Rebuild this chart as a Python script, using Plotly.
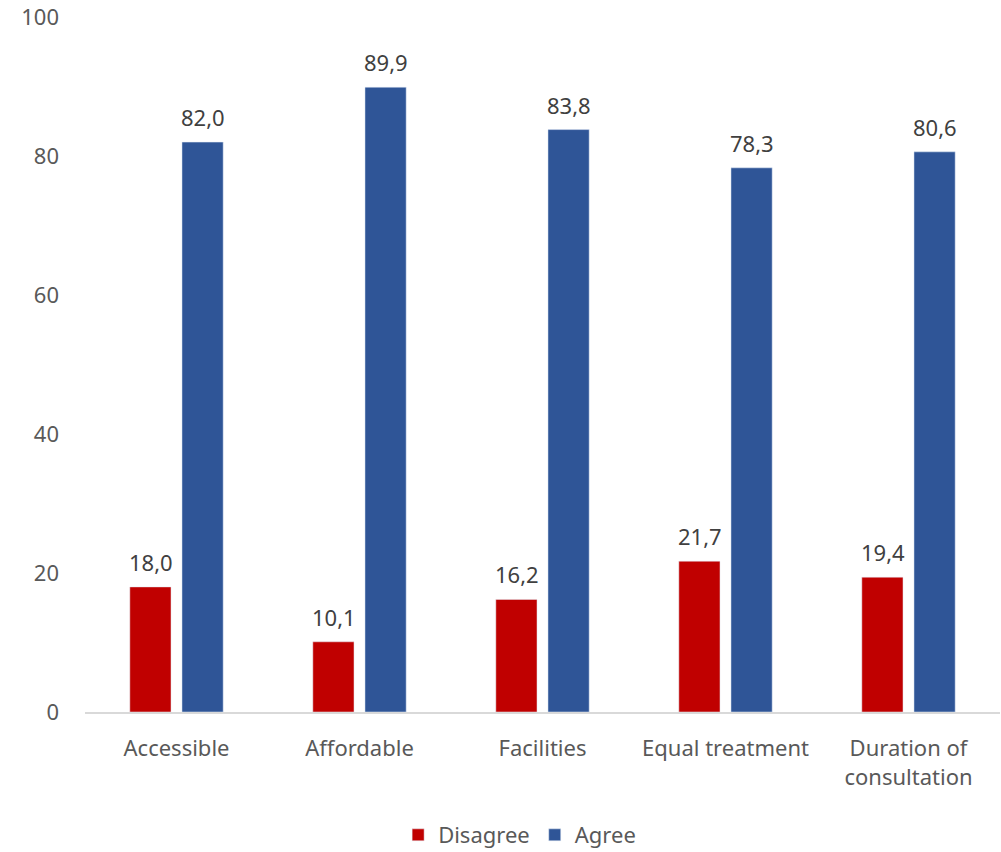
import plotly.graph_objects as go

categories = ["Accessible", "Affordable", "Facilities", "Equal treatment", "Duration of<br>consultation"]
disagree = [18.0, 10.1, 16.2, 21.7, 19.4]
agree = [82.0, 89.9, 83.8, 78.3, 80.6]
y_ticks = [0, 20, 40, 60, 80, 100]

def fmt(v):
    return f"{v:.1f}".replace(".", ",")

font_family = "Noto Sans, Open Sans, sans-serif"
FS = 22

fig = go.Figure()
fig.add_trace(go.Bar(name="Disagree", x=categories, y=disagree, marker=dict(color="#C00000")))
fig.add_trace(go.Bar(name="Agree", x=categories, y=agree, marker=dict(color="#2F5597")))

# data labels: placed at each bar's value, shifted to the bar's slot within the group
annotations = []
for series, shift in ((disagree, -26), (agree, 26)):
    for cat, v in zip(categories, series):
        annotations.append(dict(
            x=cat, y=v, xref="x", yref="y", text=fmt(v), showarrow=False,
            xshift=shift, yshift=25, yanchor="middle",
            font=dict(size=FS, color="#404040"),
        ))

fig.update_layout(
    width=1001, height=852,
    margin=dict(l=85, r=1, t=17, b=140, autoexpand=False),
    paper_bgcolor="white", plot_bgcolor="white",
    barmode="group", bargap=0.43, bargroupgap=0.21,
    font=dict(family=font_family, size=FS, color="#595959"),
    annotations=annotations,
    showlegend=True,
    legend=dict(orientation="h", x=0.475, xanchor="center", y=-0.177, yanchor="middle",
                font=dict(size=FS, color="#595959"), itemwidth=30, traceorder="normal"),
    xaxis=dict(showgrid=False, showline=True, linecolor="#D9D9D9", linewidth=1.5,
               ticks="", tickfont=dict(size=FS, color="#595959"), ticklabelstandoff=16,
               automargin=False),
    yaxis=dict(range=[0, 100], tickvals=y_ticks, showgrid=False, zeroline=False,
               showline=False, ticks="", tickfont=dict(size=FS, color="#595959"),
               ticklabelstandoff=25, automargin=False),
)

fig.write_html("out.html")
